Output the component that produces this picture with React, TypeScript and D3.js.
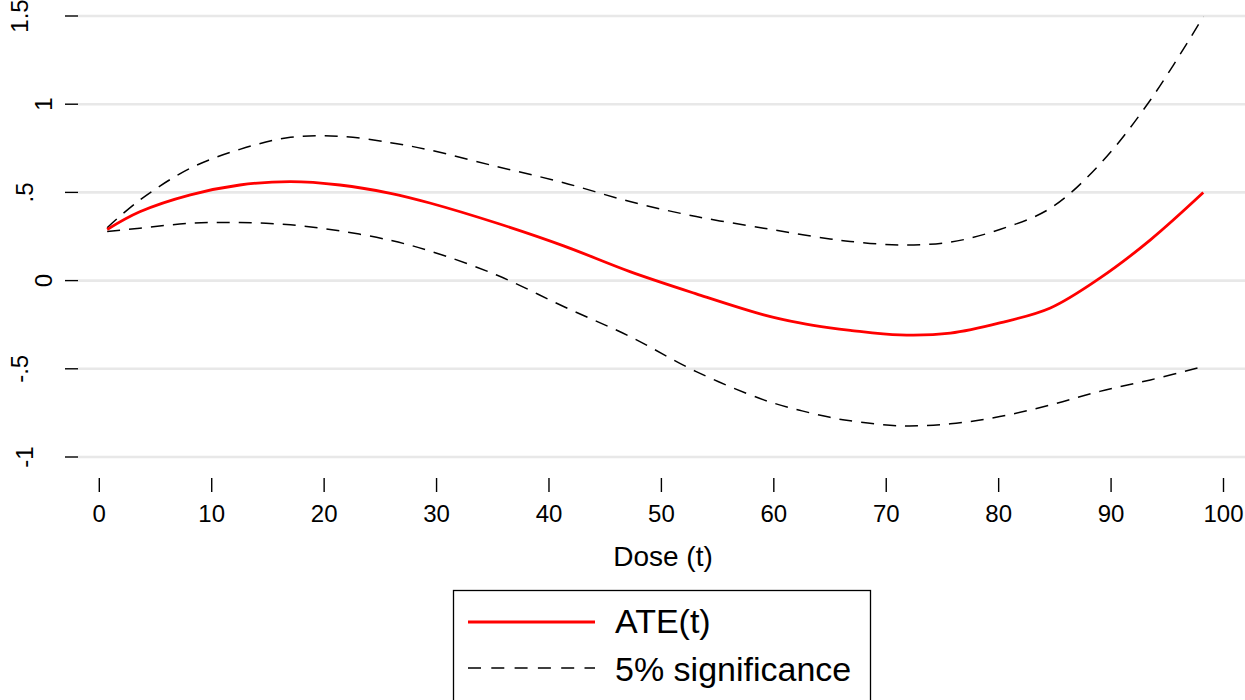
import React from "react";
import * as d3 from "d3";

const doses = [0.7, 3.6, 8.1, 12.5, 17, 21.4, 25.9, 29.4, 35.4, 41.3, 47.2, 53.1, 59.1, 62.3, 65, 66.8, 71.2, 75.7, 80.1, 84.6, 89, 93.5, 98.2];
const ate = [0.29, 0.39, 0.486, 0.542, 0.561, 0.542, 0.495, 0.44, 0.325, 0.197, 0.051, -0.075, -0.194, -0.24, -0.268, -0.282, -0.308, -0.298, -0.24, -0.155, 0.014, 0.231, 0.499];
const upper = [0.3, 0.457, 0.637, 0.744, 0.812, 0.818, 0.782, 0.74, 0.646, 0.555, 0.448, 0.363, 0.297, 0.263, 0.236, 0.222, 0.202, 0.218, 0.29, 0.41, 0.66, 1.024, 1.496];
const lower = [0.278, 0.297, 0.325, 0.329, 0.316, 0.282, 0.228, 0.168, 0.03, -0.147, -0.317, -0.516, -0.676, -0.735, -0.775, -0.795, -0.823, -0.812, -0.771, -0.705, -0.628, -0.563, -0.487];

const xTicks = [0, 10, 20, 30, 40, 50, 60, 70, 80, 90, 100];
const yTicks = [1.5, 1, 0.5, 0, -0.5, -1];
const yTickLabels = ["1.5", "1", ".5", "0", "-.5", "-1"];
const xTitle = "Dose (t)";
const legendLabels = ["ATE(t)", "5% significance"];

const FONT = "'Liberation Sans', Arial, Helvetica, sans-serif";

export default function App() {
  const W = 1245, H = 700;
  const x = d3.scaleLinear().domain([0, 100]).range([99.3, 1223.5]);
  const y = d3.scaleLinear().domain([-1, 1.5]).range([457, 16]);
  const line = (vals: number[]) =>
    d3.line<number>()
      .x((_, i) => x(doses[i]))
      .y((v) => y(v))
      .curve(d3.curveCatmullRom.alpha(0.5))(vals) || "";

  const yLabelBaseline = (s: string) => (s.length === 1 ? 52 : s.length === 2 ? 32.5 : 27.5);

  return (
    <svg width={W} height={H} style={{ position: "absolute", left: 0, top: 0, background: "#fff" }} fontFamily={FONT}>
      <rect x={0} y={0} width={W} height={H} fill="#fff" />
      {yTicks.map((t, i) => (
        <g key={"y" + i}>
          <line x1={78} x2={W} y1={y(t)} y2={y(t)} stroke="#e8e8e8" strokeWidth={2.6} />
          <line x1={65} x2={78} y1={y(t)} y2={y(t)} stroke="#000" strokeWidth={1.4} />
          <text
            transform={`translate(${yLabelBaseline(yTickLabels[i])},${y(t)}) rotate(-90)`}
            textAnchor="middle"
            fontSize={24}
            fill="#000"
          >
            {yTickLabels[i]}
          </text>
        </g>
      ))}
      {xTicks.map((t) => (
        <g key={"x" + t}>
          <line x1={x(t)} x2={x(t)} y1={478} y2={492} stroke="#000" strokeWidth={1.4} />
          <text x={x(t)} y={521.5} textAnchor="middle" fontSize={24} fill="#000">
            {t}
          </text>
        </g>
      ))}
      <text x={663} y={566} textAnchor="middle" fontSize={28} fill="#000">
        {xTitle}
      </text>

      <path d={line(upper)} fill="none" stroke="#000" strokeWidth={1.5} strokeDasharray="13 9" />
      <path d={line(lower)} fill="none" stroke="#000" strokeWidth={1.5} strokeDasharray="13 9" />
      <path d={line(ate)} fill="none" stroke="#ff0000" strokeWidth={2.8} />

      <rect x={453.5} y={590.5} width={417} height={130} fill="#fff" stroke="#000" strokeWidth={1.3} />
      <line x1={468} x2={595} y1={622} y2={622} stroke="#ff0000" strokeWidth={3} />
      <line x1={468} x2={595} y1={668} y2={668} stroke="#000" strokeWidth={1.5} strokeDasharray="13 10.3" />
      <text x={615} y={633} fontSize={34} fill="#000">{legendLabels[0]}</text>
      <text x={615} y={681} fontSize={34} fill="#000">{legendLabels[1]}</text>
    </svg>
  );
}
